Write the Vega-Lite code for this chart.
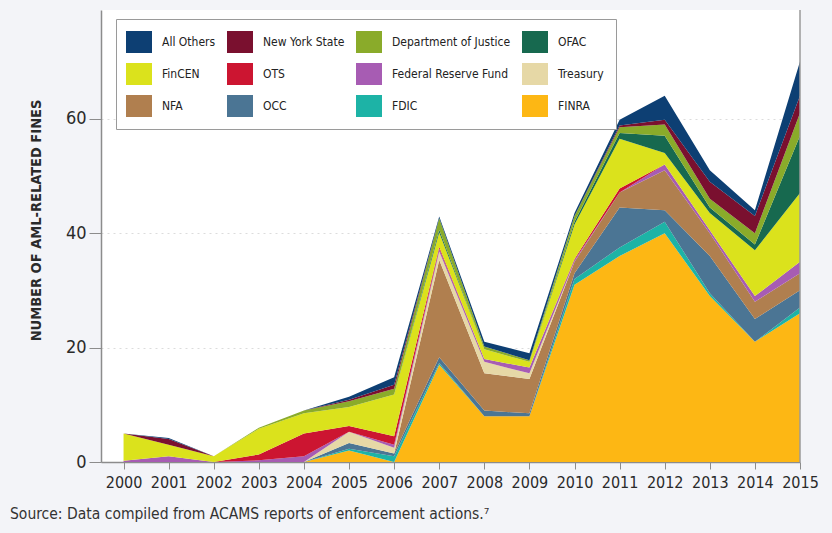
{
  "$schema": "https://vega.github.io/schema/vega-lite/v6.json",
  "width": 699,
  "height": 452,
  "autosize": {"type": "none"},
  "padding": {"left": 101, "top": 10, "right": 32, "bottom": 71},
  "background": "#f3f4f8",
  "title": {
    "text": "Source: Data compiled from ACAMS reports of enforcement actions.⁷",
    "orient": "bottom",
    "anchor": "start",
    "frame": "group",
    "dx": -91,
    "offset": 17,
    "fontSize": 15.5,
    "fontWeight": "normal",
    "font": "Liberation Sans Narrow, DejaVu Sans Condensed, Roboto Condensed, sans-serif",
    "color": "#333333"
  },
  "datasets": {
    "fines": [
      {"year": 2000, "agency": "FINRA", "fines": 0}, {"year": 2001, "agency": "FINRA", "fines": 0}, {"year": 2002, "agency": "FINRA", "fines": 0}, {"year": 2003, "agency": "FINRA", "fines": 0},
      {"year": 2004, "agency": "FINRA", "fines": 0}, {"year": 2005, "agency": "FINRA", "fines": 2}, {"year": 2006, "agency": "FINRA", "fines": 0}, {"year": 2007, "agency": "FINRA", "fines": 17},
      {"year": 2008, "agency": "FINRA", "fines": 8}, {"year": 2009, "agency": "FINRA", "fines": 8}, {"year": 2010, "agency": "FINRA", "fines": 31}, {"year": 2011, "agency": "FINRA", "fines": 36},
      {"year": 2012, "agency": "FINRA", "fines": 40}, {"year": 2013, "agency": "FINRA", "fines": 29}, {"year": 2014, "agency": "FINRA", "fines": 21}, {"year": 2015, "agency": "FINRA", "fines": 26},

      {"year": 2000, "agency": "FDIC", "fines": 0}, {"year": 2001, "agency": "FDIC", "fines": 0}, {"year": 2002, "agency": "FDIC", "fines": 0}, {"year": 2003, "agency": "FDIC", "fines": 0},
      {"year": 2004, "agency": "FDIC", "fines": 0}, {"year": 2005, "agency": "FDIC", "fines": 0.3}, {"year": 2006, "agency": "FDIC", "fines": 1}, {"year": 2007, "agency": "FDIC", "fines": 0.3},
      {"year": 2008, "agency": "FDIC", "fines": 0}, {"year": 2009, "agency": "FDIC", "fines": 0}, {"year": 2010, "agency": "FDIC", "fines": 1}, {"year": 2011, "agency": "FDIC", "fines": 1.5},
      {"year": 2012, "agency": "FDIC", "fines": 2}, {"year": 2013, "agency": "FDIC", "fines": 0.5}, {"year": 2014, "agency": "FDIC", "fines": 0}, {"year": 2015, "agency": "FDIC", "fines": 1},

      {"year": 2000, "agency": "OCC", "fines": 0}, {"year": 2001, "agency": "OCC", "fines": 0}, {"year": 2002, "agency": "OCC", "fines": 0}, {"year": 2003, "agency": "OCC", "fines": 0},
      {"year": 2004, "agency": "OCC", "fines": 0}, {"year": 2005, "agency": "OCC", "fines": 1}, {"year": 2006, "agency": "OCC", "fines": 0.5}, {"year": 2007, "agency": "OCC", "fines": 1},
      {"year": 2008, "agency": "OCC", "fines": 1}, {"year": 2009, "agency": "OCC", "fines": 0.5}, {"year": 2010, "agency": "OCC", "fines": 1}, {"year": 2011, "agency": "OCC", "fines": 7},
      {"year": 2012, "agency": "OCC", "fines": 2}, {"year": 2013, "agency": "OCC", "fines": 6.5}, {"year": 2014, "agency": "OCC", "fines": 4}, {"year": 2015, "agency": "OCC", "fines": 3},

      {"year": 2000, "agency": "NFA", "fines": 0}, {"year": 2001, "agency": "NFA", "fines": 0}, {"year": 2002, "agency": "NFA", "fines": 0}, {"year": 2003, "agency": "NFA", "fines": 0},
      {"year": 2004, "agency": "NFA", "fines": 0}, {"year": 2005, "agency": "NFA", "fines": 0}, {"year": 2006, "agency": "NFA", "fines": 0}, {"year": 2007, "agency": "NFA", "fines": 17},
      {"year": 2008, "agency": "NFA", "fines": 6.5}, {"year": 2009, "agency": "NFA", "fines": 6}, {"year": 2010, "agency": "NFA", "fines": 2}, {"year": 2011, "agency": "NFA", "fines": 2.6},
      {"year": 2012, "agency": "NFA", "fines": 7}, {"year": 2013, "agency": "NFA", "fines": 4}, {"year": 2014, "agency": "NFA", "fines": 3}, {"year": 2015, "agency": "NFA", "fines": 3},

      {"year": 2000, "agency": "Treasury", "fines": 0}, {"year": 2001, "agency": "Treasury", "fines": 0}, {"year": 2002, "agency": "Treasury", "fines": 0}, {"year": 2003, "agency": "Treasury", "fines": 0},
      {"year": 2004, "agency": "Treasury", "fines": 0}, {"year": 2005, "agency": "Treasury", "fines": 2}, {"year": 2006, "agency": "Treasury", "fines": 1}, {"year": 2007, "agency": "Treasury", "fines": 1.5},
      {"year": 2008, "agency": "Treasury", "fines": 2}, {"year": 2009, "agency": "Treasury", "fines": 1}, {"year": 2010, "agency": "Treasury", "fines": 0}, {"year": 2011, "agency": "Treasury", "fines": 0},
      {"year": 2012, "agency": "Treasury", "fines": 0}, {"year": 2013, "agency": "Treasury", "fines": 0}, {"year": 2014, "agency": "Treasury", "fines": 0}, {"year": 2015, "agency": "Treasury", "fines": 0},

      {"year": 2000, "agency": "Federal Reserve Fund", "fines": 0.2}, {"year": 2001, "agency": "Federal Reserve Fund", "fines": 1}, {"year": 2002, "agency": "Federal Reserve Fund", "fines": 0}, {"year": 2003, "agency": "Federal Reserve Fund", "fines": 0.3},
      {"year": 2004, "agency": "Federal Reserve Fund", "fines": 1}, {"year": 2005, "agency": "Federal Reserve Fund", "fines": 0}, {"year": 2006, "agency": "Federal Reserve Fund", "fines": 0.5}, {"year": 2007, "agency": "Federal Reserve Fund", "fines": 0.5},
      {"year": 2008, "agency": "Federal Reserve Fund", "fines": 0.5}, {"year": 2009, "agency": "Federal Reserve Fund", "fines": 1}, {"year": 2010, "agency": "Federal Reserve Fund", "fines": 0.3}, {"year": 2011, "agency": "Federal Reserve Fund", "fines": 0},
      {"year": 2012, "agency": "Federal Reserve Fund", "fines": 1}, {"year": 2013, "agency": "Federal Reserve Fund", "fines": 0.5}, {"year": 2014, "agency": "Federal Reserve Fund", "fines": 1}, {"year": 2015, "agency": "Federal Reserve Fund", "fines": 2},

      {"year": 2000, "agency": "OTS", "fines": 0}, {"year": 2001, "agency": "OTS", "fines": 0}, {"year": 2002, "agency": "OTS", "fines": 0}, {"year": 2003, "agency": "OTS", "fines": 1},
      {"year": 2004, "agency": "OTS", "fines": 4}, {"year": 2005, "agency": "OTS", "fines": 1}, {"year": 2006, "agency": "OTS", "fines": 1.5}, {"year": 2007, "agency": "OTS", "fines": 0.3},
      {"year": 2008, "agency": "OTS", "fines": 0}, {"year": 2009, "agency": "OTS", "fines": 0}, {"year": 2010, "agency": "OTS", "fines": 0.2}, {"year": 2011, "agency": "OTS", "fines": 0.7},
      {"year": 2012, "agency": "OTS", "fines": 0}, {"year": 2013, "agency": "OTS", "fines": 0}, {"year": 2014, "agency": "OTS", "fines": 0}, {"year": 2015, "agency": "OTS", "fines": 0},

      {"year": 2000, "agency": "FinCEN", "fines": 4.8}, {"year": 2001, "agency": "FinCEN", "fines": 2}, {"year": 2002, "agency": "FinCEN", "fines": 1}, {"year": 2003, "agency": "FinCEN", "fines": 4.5},
      {"year": 2004, "agency": "FinCEN", "fines": 3.5}, {"year": 2005, "agency": "FinCEN", "fines": 3.3}, {"year": 2006, "agency": "FinCEN", "fines": 7.3}, {"year": 2007, "agency": "FinCEN", "fines": 2.5},
      {"year": 2008, "agency": "FinCEN", "fines": 1.7}, {"year": 2009, "agency": "FinCEN", "fines": 1}, {"year": 2010, "agency": "FinCEN", "fines": 6}, {"year": 2011, "agency": "FinCEN", "fines": 8.7},
      {"year": 2012, "agency": "FinCEN", "fines": 2}, {"year": 2013, "agency": "FinCEN", "fines": 3}, {"year": 2014, "agency": "FinCEN", "fines": 8}, {"year": 2015, "agency": "FinCEN", "fines": 12},

      {"year": 2000, "agency": "OFAC", "fines": 0}, {"year": 2001, "agency": "OFAC", "fines": 0}, {"year": 2002, "agency": "OFAC", "fines": 0}, {"year": 2003, "agency": "OFAC", "fines": 0},
      {"year": 2004, "agency": "OFAC", "fines": 0}, {"year": 2005, "agency": "OFAC", "fines": 0}, {"year": 2006, "agency": "OFAC", "fines": 0}, {"year": 2007, "agency": "OFAC", "fines": 0.5},
      {"year": 2008, "agency": "OFAC", "fines": 0}, {"year": 2009, "agency": "OFAC", "fines": 0}, {"year": 2010, "agency": "OFAC", "fines": 0.5}, {"year": 2011, "agency": "OFAC", "fines": 1},
      {"year": 2012, "agency": "OFAC", "fines": 3}, {"year": 2013, "agency": "OFAC", "fines": 1}, {"year": 2014, "agency": "OFAC", "fines": 1}, {"year": 2015, "agency": "OFAC", "fines": 10},

      {"year": 2000, "agency": "Department of Justice", "fines": 0}, {"year": 2001, "agency": "Department of Justice", "fines": 0}, {"year": 2002, "agency": "Department of Justice", "fines": 0}, {"year": 2003, "agency": "Department of Justice", "fines": 0.2},
      {"year": 2004, "agency": "Department of Justice", "fines": 0.5}, {"year": 2005, "agency": "Department of Justice", "fines": 1}, {"year": 2006, "agency": "Department of Justice", "fines": 1}, {"year": 2007, "agency": "Department of Justice", "fines": 2},
      {"year": 2008, "agency": "Department of Justice", "fines": 0.5}, {"year": 2009, "agency": "Department of Justice", "fines": 0.3}, {"year": 2010, "agency": "Department of Justice", "fines": 1}, {"year": 2011, "agency": "Department of Justice", "fines": 1},
      {"year": 2012, "agency": "Department of Justice", "fines": 2}, {"year": 2013, "agency": "Department of Justice", "fines": 1.5}, {"year": 2014, "agency": "Department of Justice", "fines": 2}, {"year": 2015, "agency": "Department of Justice", "fines": 4},

      {"year": 2000, "agency": "New York State", "fines": 0}, {"year": 2001, "agency": "New York State", "fines": 1}, {"year": 2002, "agency": "New York State", "fines": 0}, {"year": 2003, "agency": "New York State", "fines": 0},
      {"year": 2004, "agency": "New York State", "fines": 0}, {"year": 2005, "agency": "New York State", "fines": 0.3}, {"year": 2006, "agency": "New York State", "fines": 0.7}, {"year": 2007, "agency": "New York State", "fines": 0},
      {"year": 2008, "agency": "New York State", "fines": 0}, {"year": 2009, "agency": "New York State", "fines": 0}, {"year": 2010, "agency": "New York State", "fines": 0}, {"year": 2011, "agency": "New York State", "fines": 0.3},
      {"year": 2012, "agency": "New York State", "fines": 0.8}, {"year": 2013, "agency": "New York State", "fines": 3}, {"year": 2014, "agency": "New York State", "fines": 3}, {"year": 2015, "agency": "New York State", "fines": 3},

      {"year": 2000, "agency": "All Others", "fines": 0}, {"year": 2001, "agency": "All Others", "fines": 0.2}, {"year": 2002, "agency": "All Others", "fines": 0}, {"year": 2003, "agency": "All Others", "fines": 0},
      {"year": 2004, "agency": "All Others", "fines": 0}, {"year": 2005, "agency": "All Others", "fines": 0.5}, {"year": 2006, "agency": "All Others", "fines": 1.3}, {"year": 2007, "agency": "All Others", "fines": 0.3},
      {"year": 2008, "agency": "All Others", "fines": 0.8}, {"year": 2009, "agency": "All Others", "fines": 1.2}, {"year": 2010, "agency": "All Others", "fines": 0.5}, {"year": 2011, "agency": "All Others", "fines": 1},
      {"year": 2012, "agency": "All Others", "fines": 4.2}, {"year": 2013, "agency": "All Others", "fines": 2}, {"year": 2014, "agency": "All Others", "fines": 1}, {"year": 2015, "agency": "All Others", "fines": 6}
    ]
  },
  "layer": [
    {
      "data": {"name": "fines"},
      "transform": [
        {"calculate": "indexof(['FINRA','FDIC','OCC','NFA','Treasury','Federal Reserve Fund','OTS','FinCEN','OFAC','Department of Justice','New York State','All Others'], datum.agency)", "as": "stackOrder"}
      ],
      "mark": {"type": "area", "interpolate": "linear"},
      "encoding": {
        "x": {
          "field": "year",
          "type": "quantitative",
          "scale": {"domain": [1999.5, 2015], "nice": false, "zero": false},
          "axis": {
            "values": [2000, 2001, 2002, 2003, 2004, 2005, 2006, 2007, 2008, 2009, 2010, 2011, 2012, 2013, 2014, 2015],
            "format": "d",
            "title": null,
            "grid": false,
            "domainColor": "#8c8c8c",
            "domainWidth": 1.5,
            "tickColor": "#8c8c8c",
            "tickSize": 7,
            "labelPadding": 5,
            "labelFontSize": 16,
            "labelFont": "Liberation Sans Narrow, DejaVu Sans Condensed, Roboto Condensed, sans-serif",
            "labelColor": "#2a2a2a",
            "labelOverlap": false,
            "labelFlush": false
          }
        },
        "y": {
          "field": "fines",
          "type": "quantitative",
          "stack": "zero",
          "scale": {"domain": [0, 79], "nice": false},
          "axis": {
            "values": [0, 20, 40, 60],
            "title": "NUMBER OF AML-RELATED FINES",
            "titleFont": "Liberation Sans Narrow, DejaVu Sans Condensed, Roboto Condensed, sans-serif",
            "titleFontSize": 14.5,
            "titleFontWeight": "bold",
            "titleColor": "#2a2a2a",
            "titlePadding": 22,
            "titleY": 210,
            "domainColor": "#8c8c8c",
            "domainWidth": 1.5,
            "tickColor": "#8c8c8c",
            "tickSize": 12,
            "labelPadding": 3,
            "labelFontSize": 18,
            "labelFont": "Liberation Sans Narrow, DejaVu Sans Condensed, Roboto Condensed, sans-serif",
            "labelColor": "#2a2a2a",
            "grid": true,
            "gridColor": "#dcdcdc",
            "gridDash": [2, 4]
          }
        },
        "color": {
          "field": "agency",
          "type": "nominal",
          "scale": {
            "domain": ["All Others", "New York State", "Department of Justice", "OFAC", "FinCEN", "OTS", "Federal Reserve Fund", "Treasury", "NFA", "OCC", "FDIC", "FINRA"],
            "range": ["#0d3f73", "#7a102f", "#8aab2a", "#17694f", "#dbe21c", "#cc1531", "#a75cb3", "#e6d8a6", "#b07f4f", "#4b7594", "#1db3a6", "#fdb714"]
          },
          "legend": {
            "title": null,
            "orient": "none",
            "legendX": 15,
            "legendY": 9,
            "columns": 4,
            "direction": "horizontal",
            "gridAlign": "each",
            "padding": 12,
            "fillColor": "#ffffff",
            "strokeColor": "#9a9a9a",
            "symbolType": "M-1.18,-1H1.18V1H-1.18Z",
            "symbolSize": 484,
            "symbolStrokeWidth": 0,
            "symbolOpacity": 1,
            "labelOffset": 12,
            "labelFontSize": 12,
            "labelFont": "Liberation Sans Narrow, DejaVu Sans Condensed, Roboto Condensed, sans-serif",
            "labelColor": "#222222",
            "columnPadding": 11,
            "rowPadding": 10,
            "labelLimit": 200
          }
        },
        "order": {"field": "stackOrder", "type": "quantitative", "sort": "ascending"}
      }
    },
    {
      "data": {"values": [{}]},
      "mark": {"type": "rule", "color": "#9a9a9a", "strokeWidth": 1.5},
      "encoding": {"x": {"datum": 2015}}
    }
  ],
  "config": {
    "view": {"fill": "#ffffff", "stroke": null}
  }
}
